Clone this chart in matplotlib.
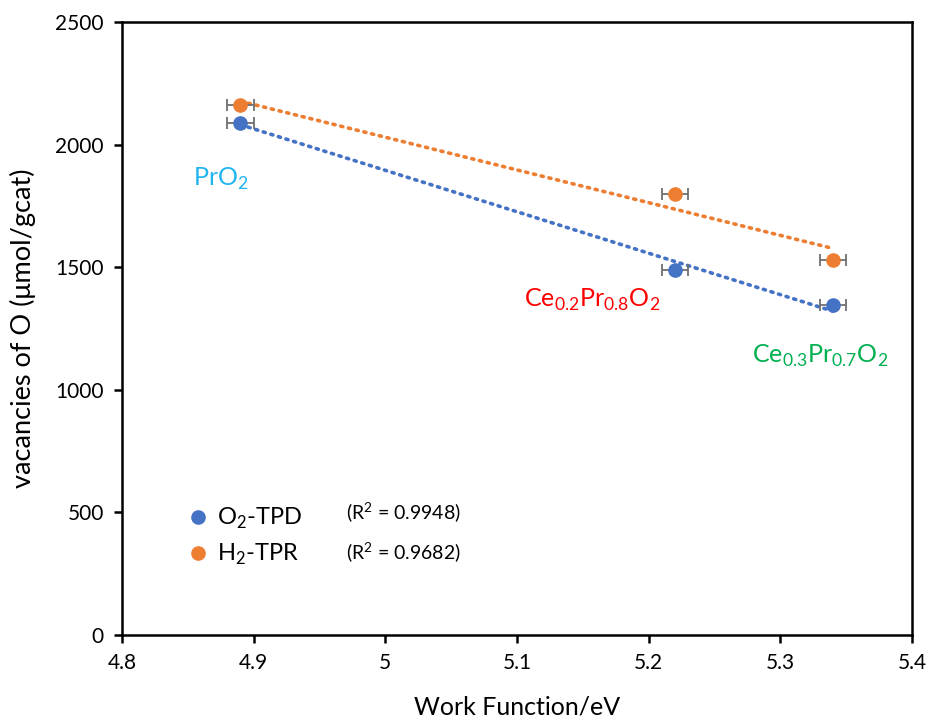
import numpy as np
import matplotlib.pyplot as plt

plt.rcParams['font.family'] = ['Lato', 'DejaVu Sans']
plt.rcParams['mathtext.fontset'] = 'custom'
plt.rcParams['mathtext.rm'] = 'Lato'

work_function = [4.89, 5.22, 5.34]
o2_tpd = [2090, 1490, 1345]
h2_tpd = [2160, 1800, 1530]
x_err = [0.01, 0.01, 0.01]
r2_o2 = "0.9948"
r2_h2 = "0.9682"

blue = "#4472C4"
orange = "#ED7D31"

fig = plt.figure(figsize=(9.31, 7.19), dpi=100)
ax = fig.add_axes([0.131, 0.1168, 0.8486, 0.8526])

for y, c, lab in [(o2_tpd, blue, "O$_\\mathrm{2}$-TPD"), (h2_tpd, orange, "H$_\\mathrm{2}$-TPR")]:
    ax.errorbar(work_function, y, xerr=x_err, fmt="none", ecolor="#707070",
                elinewidth=1.3, capsize=4, capthick=1.3, zorder=2)
    k, b = np.polyfit(work_function, y, 1)
    xs = np.array([min(work_function), max(work_function)])
    ax.plot(xs, k * xs + b, color=c, lw=2.6, linestyle=(0, (0.6, 1.6)),
            dash_capstyle="round", zorder=1)
    ax.plot(work_function, y, "o", color=c, ms=9.5, label=lab, zorder=3)

ax.set_xlim(4.8, 5.4)
ax.set_ylim(0, 2500)
ax.set_xticks(np.arange(4.8, 5.41, 0.1))
ax.set_xticklabels(["4.8", "4.9", "5", "5.1", "5.2", "5.3", "5.4"])
ax.set_yticks(range(0, 2501, 500))
for s in ax.spines.values():
    s.set_linewidth(1.8)
ax.tick_params(direction="out", length=6, width=1.8, labelsize=15, pad=7)

ax.set_xlabel("Work Function/eV", fontsize=18, labelpad=16)
ax.set_ylabel("vacancies of O (μmol/gcat)", fontsize=19.5, labelpad=14)

ax.text(4.875, 1860, "PrO$_\\mathrm{2}$", color="#1EB4F0", fontsize=18,
        ha="center", va="center")
ax.text(5.157, 1365, "Ce$_\\mathrm{0.2}$Pr$_\\mathrm{0.8}$O$_\\mathrm{2}$", color="#FF0000",
        fontsize=18, ha="center", va="center")
ax.text(5.33, 1140, "Ce$_\\mathrm{0.3}$Pr$_\\mathrm{0.7}$O$_\\mathrm{2}$", color="#00B050",
        fontsize=18, ha="center", va="center")

leg = ax.legend(loc="upper left", bbox_to_anchor=(0.055, 0.245), frameon=False,
                fontsize=17, handletextpad=0.3, labelspacing=0.45,
                handlelength=1.0)
ax.text(4.97, 500, f"(R$^\\mathrm{{2}}$ = {r2_o2})", fontsize=14, va="center")
ax.text(4.97, 335, f"(R$^\\mathrm{{2}}$ = {r2_h2})", fontsize=14, va="center")

fig.savefig("out.png", dpi=100)
